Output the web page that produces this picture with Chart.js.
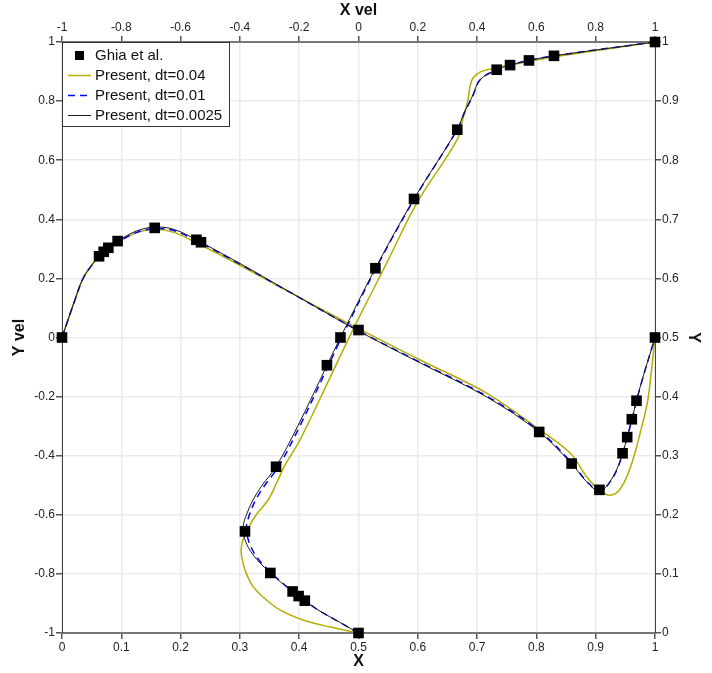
<!DOCTYPE html>
<html>
<head>
<meta charset="utf-8">
<script src="https://cdn.jsdelivr.net/npm/chart.js@4.4.1/dist/chart.umd.min.js"></script>
<style>
  body { margin: 0; background: #fff; }
  canvas { display: block; }
</style>
</head>
<body>
<canvas id="grafico" width="712" height="673"></canvas>
<script>
// nomes das series (legenda)
const seriesNames = ['Ghia et al.', 'Present, dt=0.04', 'Present, dt=0.01', 'Present, dt=0.0025'];

// Ghia et al. Re=1000 - u ao longo da linha vertical central
const ghiaY = [1.0, 0.9766, 0.9688, 0.9609, 0.9531, 0.8516, 0.7344, 0.6172, 0.5, 0.4531, 0.2813, 0.1719, 0.1016, 0.0703, 0.0625, 0.0547, 0.0];
const ghiaU = [1.0, 0.65928, 0.57492, 0.51117, 0.46604, 0.33304, 0.18719, 0.05702, -0.0608, -0.10648, -0.27805, -0.38289, -0.2973, -0.2222, -0.20196, -0.18109, 0.0];
// Ghia et al. - v ao longo da linha horizontal central
const ghiaX = [1.0, 0.9688, 0.9609, 0.9531, 0.9453, 0.9063, 0.8594, 0.8047, 0.5, 0.2344, 0.2266, 0.1563, 0.0938, 0.0781, 0.0703, 0.0625, 0.0];
const ghiaV = [0.0, -0.21388, -0.27669, -0.33714, -0.39188, -0.5155, -0.42665, -0.31966, 0.02526, 0.32235, 0.33075, 0.37095, 0.32627, 0.30353, 0.29012, 0.27485, 0.0];

// dt=0.04
const dt04_uY = [0, 0.01, 0.022, 0.039, 0.061, 0.081, 0.107, 0.124, 0.14, 0.157, 0.174, 0.2, 0.225, 0.255, 0.284, 0.327, 0.428, 0.513, 0.631, 0.728, 0.834, 0.87, 0.902, 0.925, 0.939, 0.949, 0.954, 0.975, 1];
const dt04_u  = [0, -0.095, -0.187, -0.265, -0.322, -0.359, -0.383, -0.392, -0.396, -0.39, -0.376, -0.345, -0.305, -0.275, -0.248, -0.197, -0.1, -0.019, 0.1, 0.197, 0.332, 0.352, 0.369, 0.376, 0.386, 0.41, 0.443, 0.663, 1];
const dt04_vX = [0, 0.01, 0.022, 0.034, 0.046, 0.062, 0.094, 0.125, 0.157, 0.19, 0.229, 0.297, 0.359, 0.5, 0.604, 0.716, 0.801, 0.857, 0.885, 0.905, 0.921, 0.935, 0.948, 0.961, 0.975, 0.987, 0.993, 1];
const dt04_v  = [0, 0.058, 0.127, 0.193, 0.233, 0.272, 0.322, 0.354, 0.366, 0.355, 0.318, 0.248, 0.18, 0.03, -0.076, -0.188, -0.306, -0.391, -0.472, -0.515, -0.533, -0.526, -0.49, -0.425, -0.323, -0.222, -0.13, 0];

// dt=0.01
const dt01_uY = [0, 0.02, 0.04, 0.0547, 0.0703, 0.086, 0.1016, 0.12, 0.14, 0.16, 0.18, 0.2, 0.225, 0.25, 0.2813, 0.35, 0.4531, 0.5, 0.6172, 0.7344, 0.8516, 0.88, 0.907, 0.936, 0.9531, 0.9609, 0.9688, 0.9766, 1];
const dt01_u  = [0, -0.07, -0.14, -0.18, -0.221, -0.26, -0.294, -0.33, -0.357, -0.373, -0.378, -0.368, -0.347, -0.316, -0.27, -0.198, -0.101, -0.057, 0.059, 0.188, 0.333, 0.357, 0.384, 0.41, 0.466, 0.511, 0.575, 0.659, 1];
const dt01_vX = [0, 0.01, 0.022, 0.034, 0.046, 0.0625, 0.0781, 0.0938, 0.125, 0.157, 0.19, 0.229, 0.297, 0.359, 0.5, 0.604, 0.716, 0.8047, 0.8594, 0.885, 0.907, 0.929, 0.9453, 0.9609, 0.975, 1];
const dt01_v  = [0, 0.059, 0.128, 0.193, 0.233, 0.272, 0.3, 0.322, 0.355, 0.369, 0.361, 0.325, 0.252, 0.182, 0.023, -0.084, -0.198, -0.316, -0.424, -0.487, -0.519, -0.474, -0.394, -0.279, -0.168, 0];

// dt=0.0025
const dt0025_uY = [0, 0.02, 0.04, 0.0547, 0.0703, 0.086, 0.1016, 0.12, 0.14, 0.16, 0.18, 0.2, 0.225, 0.25, 0.2813, 0.35, 0.4531, 0.5, 0.6172, 0.7344, 0.8516, 0.88, 0.907, 0.936, 0.9531, 0.9609, 0.9688, 0.9766, 1];
const dt0025_u  = [0, -0.07, -0.14, -0.181, -0.222, -0.262, -0.297, -0.335, -0.366, -0.384, -0.389, -0.378, -0.356, -0.325, -0.278, -0.205, -0.106, -0.061, 0.057, 0.187, 0.333, 0.356, 0.383, 0.41, 0.466, 0.511, 0.575, 0.659, 1];
const dt0025_vX = [0, 0.01, 0.022, 0.034, 0.046, 0.0625, 0.0781, 0.0938, 0.125, 0.157, 0.19, 0.229, 0.297, 0.359, 0.5, 0.604, 0.716, 0.8047, 0.8594, 0.885, 0.907, 0.929, 0.9453, 0.9609, 0.975, 1];
const dt0025_v  = [0, 0.06, 0.13, 0.195, 0.235, 0.275, 0.3035, 0.3263, 0.36, 0.374, 0.365, 0.328, 0.254, 0.183, 0.022, -0.086, -0.201, -0.32, -0.427, -0.489, -0.52, -0.472, -0.392, -0.277, -0.167, 0];

const corOliva = '#b5ad00';
const corAzul = '#0000ff';
const corPreta = '#1a1a1a';

function pontos(xs, ys) {
  return xs.map((x, i) => ({ x: x, y: ys[i] }));
}

function tickFmt(v) {
  return String(parseFloat(v.toFixed(2)));
}

// linha suave
function linha(data, cor, largura, dash, eixoX, eixoY) {
  return {
    data: data, showLine: true, borderColor: cor, borderWidth: largura,
    borderDash: dash, pointRadius: 0, tension: 0.35, fill: false,
    xAxisID: eixoX, yAxisID: eixoY, clip: false
  };
}

function marcadores(data, eixoX, eixoY) {
  return {
    data: data, showLine: false, pointStyle: 'rect', pointRadius: 7.5,
    backgroundColor: '#000', borderWidth: 0, xAxisID: eixoX, yAxisID: eixoY, clip: false
  };
}

const tituloFonte = { size: 16, weight: 'bold' };
const tickFonte = { size: 12 };

function eixo(pos, min, max, step, titulo, tamanho, pad, noGrid) {
  const horiz = pos === 'top' || pos === 'bottom';
  return {
    type: 'linear', position: pos, min: min, max: max,
    ticks: { stepSize: step, callback: tickFmt, font: tickFonte, color: '#222', padding: 1, maxRotation: 0, autoSkip: false },
    title: { display: true, text: titulo, font: tituloFonte, color: '#111', padding: pad },
    grid: { color: '#ebebeb', lineWidth: 1.5, tickColor: '#555', tickLength: 6, drawOnChartArea: !noGrid },
    border: { color: horiz ? '#777' : '#444', width: horiz ? 2 : 1 },
    afterFit: horiz ? (s) => { s.height = tamanho; } : (s) => { s.width = tamanho; }
  };
}

// legenda dentro da area do grafico
const legendaCaixa = {
  id: 'legendaCaixa',
  afterDraw(chart) {
    const ctx = chart.ctx;
    const a = chart.chartArea;
    const x0 = a.left, y0 = a.top, w = 168, h = 85;
    ctx.save();
    ctx.fillStyle = '#fff';
    ctx.fillRect(x0, y0, w, h);
    ctx.strokeStyle = '#333';
    ctx.lineWidth = 1;
    ctx.strokeRect(x0 + 0.5, y0 + 0.5, w - 1, h - 1);
    ctx.font = '15px "Liberation Sans", Arial, sans-serif';
    ctx.textBaseline = 'middle';
    const estilos = [
      null,
      { cor: corOliva, w: 1.5, dash: [] },
      { cor: corAzul, w: 1.5, dash: [7, 5] },
      { cor: corPreta, w: 1, dash: [] }
    ];
    seriesNames.forEach((nome, i) => {
      const yy = y0 + 13 + i * 20;
      if (i === 0) {
        ctx.fillStyle = '#000';
        ctx.fillRect(x0 + 13, yy - 4, 9, 9);
      } else {
        const e = estilos[i];
        ctx.strokeStyle = e.cor;
        ctx.lineWidth = e.w;
        ctx.setLineDash(e.dash);
        ctx.beginPath();
        ctx.moveTo(x0 + 6, yy + 0.5);
        ctx.lineTo(x0 + 29, yy + 0.5);
        ctx.stroke();
        ctx.setLineDash([]);
      }
      ctx.fillStyle = '#111';
      ctx.fillText(nome, x0 + 33, yy + 1);
    });
    ctx.restore();
  }
};

Chart.defaults.font.family = '"Liberation Sans", Arial, sans-serif';

const context = document.getElementById('grafico');
const grafico = new Chart(context, {
  type: 'scatter',
  data: {
    datasets: [
      marcadores(pontos(ghiaU, ghiaY), 'x2', 'y2'),
      marcadores(pontos(ghiaX, ghiaV), 'x', 'y'),
      linha(pontos(dt0025_u, dt0025_uY), corPreta, 1, [], 'x2', 'y2'),
      linha(pontos(dt0025_vX, dt0025_v), corPreta, 1, [], 'x', 'y'),
      linha(pontos(dt01_u, dt01_uY), corAzul, 1.5, [7, 5], 'x2', 'y2'),
      linha(pontos(dt01_vX, dt01_v), corAzul, 1.5, [7, 5], 'x', 'y'),
      linha(pontos(dt04_u, dt04_uY), corOliva, 1.5, [], 'x2', 'y2'),
      linha(pontos(dt04_vX, dt04_v), corOliva, 1.5, [], 'x', 'y')
    ]
  },
  options: {
    responsive: false,
    animation: false,
    events: [],
    layout: { padding: 0 },
    plugins: {
      legend: { display: false },
      tooltip: { enabled: false }
    },
    scales: {
      x: eixo('bottom', 0, 1, 0.1, 'X', 40, { top: 0, bottom: 2 }, false),
      y: eixo('left', -1, 1, 0.2, 'Y vel', 62, { top: 10, bottom: 0 }, false),
      x2: eixo('top', -1, 1, 0.2, 'X vel', 42, { top: 1, bottom: 0 }, true),
      y2: eixo('right', 0, 1, 0.1, 'Y', 57, { top: 9, bottom: 0 }, true)
    }
  },
  plugins: [legendaCaixa]
});
</script>
</body>
</html>
